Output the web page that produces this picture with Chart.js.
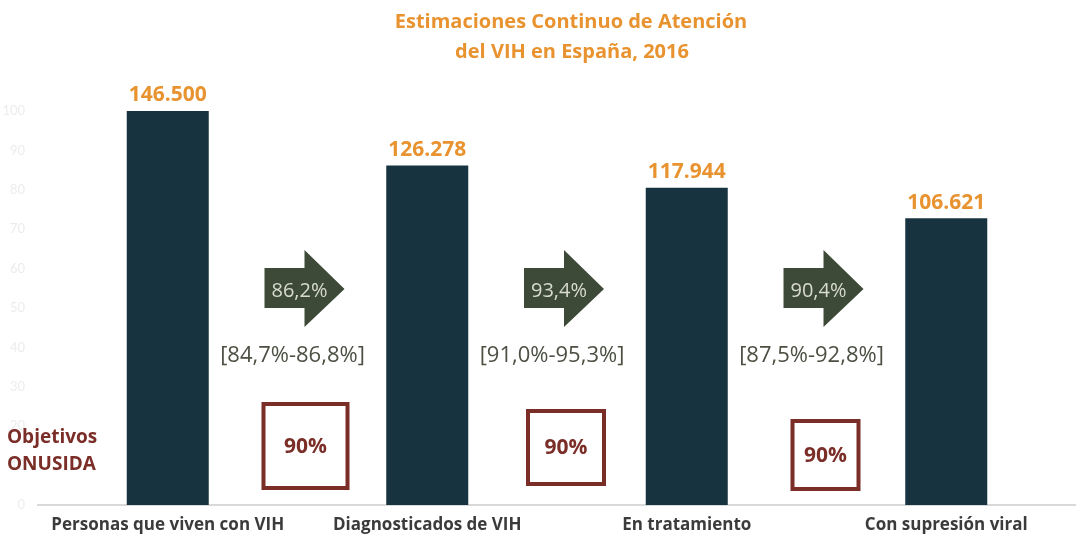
<!DOCTYPE html>
<html>
<head>
<meta charset="utf-8">
<script src="https://cdn.jsdelivr.net/npm/chart.js@4.4.0/dist/chart.umd.min.js"></script>
<style>
html,body{margin:0;padding:0;background:#fff;}
#wrap{width:1076px;height:542px;position:relative;}
</style>
</head>
<body>
<div id="wrap"><canvas id="c" width="1076" height="542"></canvas></div>
<script>
// ---- data ----
const categories = ['Personas que viven con VIH', 'Diagnosticados de VIH', 'En tratamiento', 'Con supresión viral'];
const values = [146500, 126278, 117944, 106621];
const stepRates = ['86,2%', '93,4%', '90,4%'];
const stepIntervals = ['[84,7%-86,8%]', '[91,0%-95,3%]', '[87,5%-92,8%]'];
const targets = ['90%', '90%', '90%'];
const yTickPercents = [0, 10, 20, 30, 40, 50, 60, 70, 80, 90, 100];
const titleLines = ['Estimaciones Continuo de Atención', 'del VIH en España, 2016'];
const targetLabel = ['Objetivos', 'ONUSIDA'];

const total = values[0];
const fmt = v => String(v).replace(/\B(?=(\d{3})+(?!\d))/g, '.');

const FONT = '"Open Sans", Lato, sans-serif';
const LATO = 'Lato, "Open Sans", sans-serif';
const ORANGE = '#e8932f';
const BAR = '#17333f';
const RED = '#7b2d27';
const ARROW = '#3c4a37';

// box geometry (styling only)
const boxStyle = [
  {dx: 8, top: 402, w: 88, h: 88},
  {dx: 9, top: 409, w: 80, h: 77},
  {dx: 9, top: 419, w: 70, h: 72}
];

const annot = {
  id: 'annot',
  afterDatasetsDraw(chart) {
    const ctx = chart.ctx;
    const meta = chart.getDatasetMeta(0);
    ctx.save();
    // title
    ctx.fillStyle = ORANGE;
    ctx.font = 'bold 20px ' + FONT;
    ctx.textAlign = 'center';
    ctx.textBaseline = 'middle';
    ctx.fillText(titleLines[0], 571, 22);
    ctx.fillText(titleLines[1], 572, 52);

    // value labels
    ctx.font = 'bold 21px ' + FONT;
    ctx.textBaseline = 'bottom';
    meta.data.forEach((bar, i) => {
      ctx.fillText(fmt(values[i]), bar.x, bar.y - 5);
    });

    // arrows, intervals, boxes
    for (let i = 0; i < stepRates.length; i++) {
      const mid = (meta.data[i].x + meta.data[i + 1].x) / 2;
      const cx = mid + 6;
      ctx.fillStyle = ARROW;
      ctx.beginPath();
      ctx.moveTo(cx - 39, 268);
      ctx.lineTo(cx + 1, 268);
      ctx.lineTo(cx + 1, 250);
      ctx.lineTo(cx + 41, 289);
      ctx.lineTo(cx + 1, 327);
      ctx.lineTo(cx + 1, 308);
      ctx.lineTo(cx - 39, 308);
      ctx.closePath();
      ctx.fill();
      ctx.fillStyle = '#d8dbd0';
      ctx.font = '20px ' + FONT;
      ctx.textAlign = 'center';
      ctx.textBaseline = 'middle';
      ctx.fillText(stepRates[i], cx - 4, 291);

      ctx.fillStyle = '#4b5043';
      ctx.font = '22px ' + FONT;
      ctx.fillText(stepIntervals[i], mid - 5, 356);

      const b = boxStyle[i];
      const bx = mid + b.dx;
      ctx.strokeStyle = RED;
      ctx.lineWidth = 4;
      ctx.strokeRect(bx - b.w / 2 + 2, b.top + 2, b.w - 4, b.h - 4);
      ctx.fillStyle = RED;
      ctx.font = 'bold 21px ' + FONT;
      ctx.fillText(targets[i], bx, b.top + b.h / 2 + 1);
    }

    // Objetivos ONUSIDA
    ctx.fillStyle = RED;
    ctx.font = 'bold 19px ' + FONT;
    ctx.textAlign = 'left';
    ctx.textBaseline = 'middle';
    ctx.fillText(targetLabel[0], 7, 438);
    ctx.fillText(targetLabel[1], 7, 465);
    ctx.restore();
  }
};

new Chart(document.getElementById('c'), {
  type: 'bar',
  data: {
    labels: categories,
    datasets: [{
      data: values,
      backgroundColor: BAR,
      borderWidth: 0,
      categoryPercentage: 1,
      barPercentage: 0.316
    }]
  },
  options: {
    responsive: false,
    animation: false,
    devicePixelRatio: 1,
    layout: {padding: {top: 111, right: 0, left: 0, bottom: 0}},
    plugins: {legend: {display: false}, title: {display: false}, tooltip: {enabled: false}},
    scales: {
      x: {
        grid: {display: false, drawTicks: false},
        border: {display: true, color: '#d9d9d9', width: 2},
        ticks: {color: '#3b3b3b', font: {family: FONT, size: 17, weight: 'bold'}, padding: 10, maxRotation: 0, autoSkip: false},
        afterFit(s) { s.height = 37; }
      },
      y: {
        min: 0,
        max: total,
        afterBuildTicks(s) { s.ticks = yTickPercents.map(p => ({value: total * p / 100})); },
        grid: {display: false, drawTicks: false},
        border: {display: false},
        ticks: {
          color: '#ececec',
          font: {family: LATO, size: 13},
          padding: 13,
          callback: v => String(Math.round(v / total * 100))
        },
        afterFit(s) { s.width = 38; }
      }
    }
  },
  plugins: [annot]
});
</script>
</body>
</html>
